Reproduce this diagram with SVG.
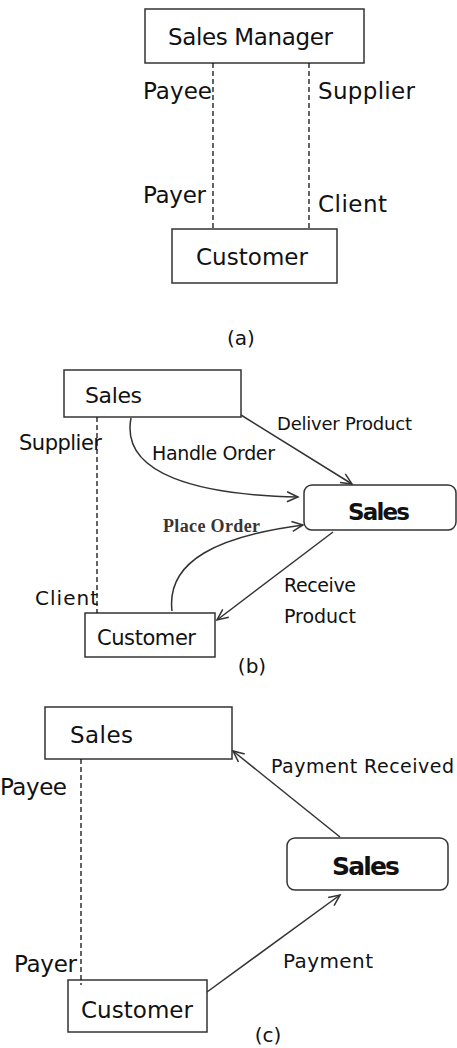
<svg xmlns="http://www.w3.org/2000/svg" width="457" height="1048" viewBox="0 0 457 1048">
<style>
.box{fill:#fff;stroke:#333;stroke-width:1.5}
.rbox{fill:#fff;stroke:#333;stroke-width:1.5}
.dash{fill:none;stroke:#111;stroke-width:1.3;stroke-dasharray:5 3}
.arr{fill:none;stroke:#333;stroke-width:1.5;marker-end:url(#ah)}
text{font-family:"DejaVu Sans","Liberation Sans",sans-serif;fill:#111}
.bold{font-weight:bold}
.serif{font-family:"Liberation Serif","DejaVu Serif",serif;fill:#3a3434;font-weight:bold}
</style>
<defs>
<marker id="ah" markerWidth="14" markerHeight="14" refX="12" refY="6" orient="auto" markerUnits="userSpaceOnUse">
<polyline points="1,1 12,6 1,11" fill="none" stroke="#333" stroke-width="1.5"/>
</marker>
</defs>

<!-- (a) -->
<g id="a-salesmanager"><rect class="box" x="145" y="9" width="219" height="54"/><text x="168" y="45" font-size="23" textLength="165">Sales Manager</text></g>
<g id="a-customer"><rect class="box" x="172" y="229" width="165" height="54"/><text x="196" y="265" font-size="23" textLength="112">Customer</text></g>
<g id="a-connectors">
<line class="dash" x1="213" y1="63" x2="213" y2="229"/>
<line class="dash" x1="309" y1="63" x2="309" y2="229"/>
</g>
<g id="a-labels">
<text x="143" y="99" font-size="23" textLength="69">Payee</text>
<text x="318" y="99" font-size="23" textLength="97">Supplier</text>
<text x="143" y="203" font-size="23" textLength="63">Payer</text>
<text x="318" y="212" font-size="23" textLength="69">Client</text>
<text x="241" y="345" font-size="20" text-anchor="middle">(a)</text>
</g>

<!-- (b) -->
<g id="b-sales"><rect class="box" x="64" y="370" width="177" height="47"/><text x="85" y="403" font-size="22" textLength="57">Sales</text></g>
<g id="b-customer"><rect class="box" x="85" y="613" width="130" height="44"/><text x="97" y="645" font-size="21" textLength="99">Customer</text></g>
<g id="b-salesproc"><rect class="rbox" x="304" y="485" width="152" height="45" rx="8"/><text class="bold" x="348" y="520" font-size="23" textLength="62">Sales</text></g>
<g id="b-connectors">
<line class="dash" x1="97" y1="417" x2="97" y2="613"/>
<path class="arr" d="M241,415 L352,484"/>
<path class="arr" d="M131,418 C120,475 200,495 298,497"/>
<path class="arr" d="M172,611 C166,560 220,536 303,525"/>
<path class="arr" d="M333,532 L217,620"/>
</g>
<g id="b-labels">
<text x="19" y="450" font-size="21" textLength="83">Supplier</text>
<text x="35" y="605" font-size="20" textLength="63">Client</text>
<text x="277" y="430" font-size="18" textLength="135">Deliver Product</text>
<text x="152" y="460" font-size="19" textLength="123">Handle Order</text>
<text class="serif" x="163" y="532" font-size="18" textLength="97">Place Order</text>
<text x="284" y="592" font-size="19" textLength="72">Receive</text>
<text x="284" y="623" font-size="19" textLength="72">Product</text>
<text x="252" y="673" font-size="20" text-anchor="middle">(b)</text>
</g>

<!-- (c) -->
<g id="c-sales"><rect class="box" x="45" y="707" width="187" height="52"/><text x="70" y="743" font-size="23" textLength="63">Sales</text></g>
<g id="c-customer"><rect class="box" x="68" y="980" width="139" height="52"/><text x="81" y="1018" font-size="23" textLength="112">Customer</text></g>
<g id="c-salesproc"><rect class="rbox" x="287" y="838" width="161" height="52" rx="8"/><text class="bold" x="332" y="875" font-size="25" textLength="68">Sales</text></g>
<g id="c-connectors">
<line class="dash" x1="81" y1="759" x2="81" y2="985"/>
<path class="arr" d="M340,837 L233,751"/>
<path class="arr" d="M207,992 L340,895"/>
</g>
<g id="c-labels">
<text x="0" y="795" font-size="23" textLength="67">Payee</text>
<text x="14" y="972" font-size="23" textLength="63">Payer</text>
<text x="271" y="773" font-size="19" textLength="183">Payment Received</text>
<text x="283" y="968" font-size="20" textLength="90">Payment</text>
<text x="268" y="1042" font-size="20" text-anchor="middle">(c)</text>
</g>
</svg>
